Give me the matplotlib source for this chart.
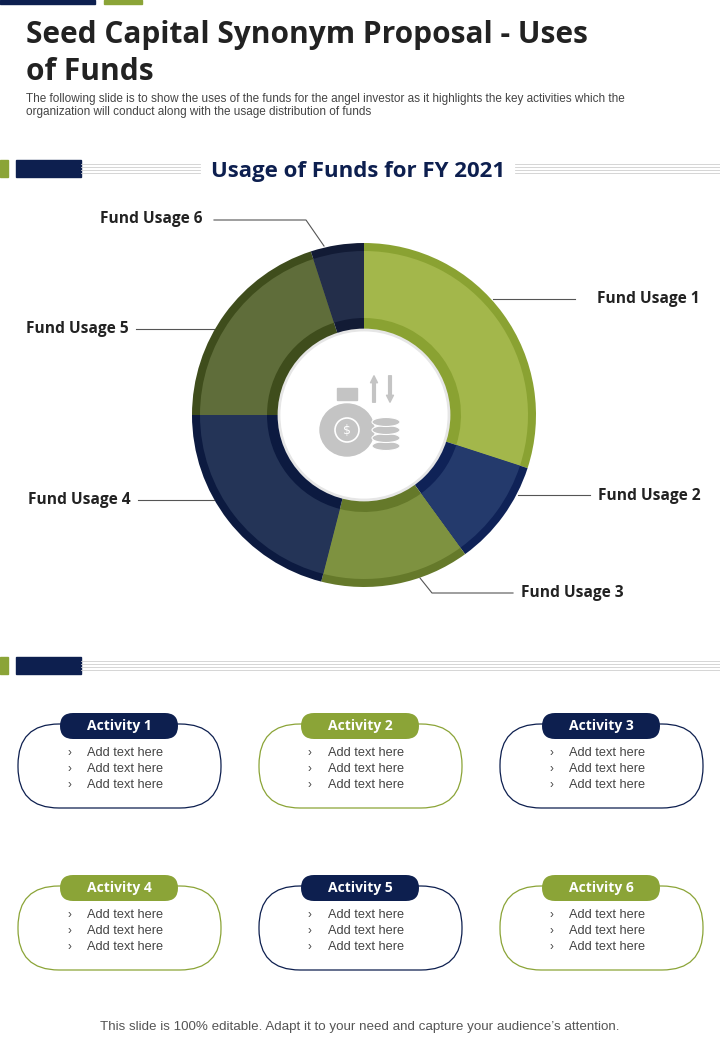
import matplotlib.pyplot as plt
from matplotlib.patches import Rectangle, FancyBboxPatch, Circle, Ellipse

# chart data
usage_labels = ["Fund Usage 1", "Fund Usage 2", "Fund Usage 3",
                "Fund Usage 4", "Fund Usage 5", "Fund Usage 6"]
usage_share = [30, 10, 14, 21, 20, 5]
main_colors = ["#a3b74b", "#243a6c", "#7e9240", "#243457", "#5f6d3a", "#232e4a"]
rim_colors = ["#8aa232", "#0f2257", "#65792a", "#0c1a40", "#3f4d1c", "#121b35"]

activities = ["Activity 1", "Activity 2", "Activity 3",
              "Activity 4", "Activity 5", "Activity 6"]
act_colors = ["#0d1f4f", "#8ba437", "#0d1f4f", "#8ba437", "#0d1f4f", "#8ba437"]
bullets = ["Add text here", "Add text here", "Add text here"]

NAVY = "#0d1f4f"
GREEN = "#8ba437"
H = 1040
HEAD = "Open Sans"
BODY = "Liberation Sans"

fig = plt.figure(figsize=(7.2, 10.4), dpi=100)
ax = fig.add_axes([0, 0, 1, 1])


def Y(y):
    return H - y


# top bars
ax.add_patch(Rectangle((0, Y(4)), 95, 4, color=NAVY))
ax.add_patch(Rectangle((104, Y(4)), 38, 4, color=GREEN))

ax.text(26, Y(35), "Seed Capital Synonym Proposal - Uses", fontsize=21.5,
        fontweight="bold", family=HEAD, color="#222222", va="center")
ax.text(26, Y(72), "of Funds", fontsize=21.5, fontweight="bold", family=HEAD,
        color="#222222", va="center")
ax.text(26, Y(99), "The following slide is to show the uses of the funds for the angel investor as it highlights the key activities which the",
        fontsize=8.5, family=BODY, color="#444444", va="center")
ax.text(26, Y(112), "organization will conduct along with the usage distribution of funds",
        fontsize=8.5, family=BODY, color="#444444", va="center")


def divider(y, x_gap=None):
    ax.add_patch(Rectangle((0, Y(y + 17)), 8, 17, color=GREEN))
    ax.add_patch(Rectangle((16, Y(y + 17)), 65, 17, color=NAVY))
    for k in range(4):
        yy = Y(y + 4 + k * 3)
        if x_gap:
            ax.plot([81, x_gap[0]], [yy, yy], color="#cfcfcf", lw=0.6)
            ax.plot([x_gap[1], 720], [yy, yy], color="#cfcfcf", lw=0.6)
        else:
            ax.plot([81, 720], [yy, yy], color="#cfcfcf", lw=0.6)


divider(160, (200, 515))
ax.text(358, Y(171), "Usage of Funds for FY 2021", fontsize=16,
        fontweight="bold", family=HEAD, color=NAVY, ha="center", va="center")

# donut
cx, cy = 364, Y(415)
ax.pie(usage_share, colors=rim_colors, radius=172, center=(cx, cy),
       startangle=90, counterclock=False,
       wedgeprops=dict(width=88, edgecolor="none"))
ax.pie(usage_share, colors=main_colors, radius=164, center=(cx, cy),
       startangle=90, counterclock=False,
       wedgeprops=dict(width=67, edgecolor="none"))
ax.add_patch(Circle((cx, cy), 85, color="white", ec="#e6e6e6", lw=2))

# icon
ax.add_patch(Ellipse((347, Y(430)), 54, 52, color="#c4c4c4"))
ax.add_patch(Rectangle((337, Y(400)), 20, 12, color="#c4c4c4"))
ax.add_patch(Circle((347, Y(430)), 12, fill=False, ec="white", lw=1.2))
ax.text(347, Y(430), "$", fontsize=9, color="white", ha="center", va="center")
for k in range(4):
    ax.add_patch(Ellipse((386, Y(446 - k * 8)), 28, 9, color="#c4c4c4",
                         ec="white", lw=0.8))
ax.annotate("", xy=(374, Y(373)), xytext=(374, Y(405)),
            arrowprops=dict(arrowstyle="simple", color="#c4c4c4"))
ax.annotate("", xy=(390, Y(405)), xytext=(390, Y(373)),
            arrowprops=dict(arrowstyle="simple", color="#c4c4c4"))

# leader lines and labels
leaders = [
    ([493, 575], [299, 299], (597, 299), "left"),
    ([518, 590], [495, 495], (598, 496), "left"),
    ([420, 432, 513], [578, 593, 593], (521, 593), "left"),
    ([214, 138], [500, 500], (131, 500), "right"),
    ([214, 136], [329, 329], (129, 329), "right"),
    ([324, 306, 214], [246, 220, 220], (203, 219), "right"),
]
for (xs, ys, (tx, ty), ha), lab in zip(leaders, usage_labels):
    ax.plot(xs, [Y(v) for v in ys], color="#555555", lw=0.8)
    ax.text(tx, Y(ty), lab, fontsize=11.2, fontweight="bold", family=HEAD,
            color="#222222", ha=ha, va="center")

divider(657)

# activity boxes
for i, name in enumerate(activities):
    col, row = i % 3, i // 3
    x0 = 18 + col * 241
    top = 724 + row * 162
    c = act_colors[i]
    ax.add_patch(FancyBboxPatch((x0, Y(top + 84)), 203, 84,
                                boxstyle="round,pad=0,rounding_size=41",
                                fc="white", ec=c, lw=0.9))
    ax.add_patch(FancyBboxPatch((x0 + 42, Y(top + 15)), 118, 26,
                                boxstyle="round,pad=0,rounding_size=13",
                                fc=c, ec="none"))
    ax.text(x0 + 101, Y(top + 2), name, fontsize=10, fontweight="bold",
            family=HEAD, color="white", ha="center", va="center")
    for j, b in enumerate(bullets):
        yy = Y(top + 29 + j * 16)
        ax.text(x0 + 49, yy, "›", fontsize=8.5, family=BODY, color="#444444", va="center")
        ax.text(x0 + 69, yy, b, fontsize=9.2, family=BODY, color="#444444", va="center")

ax.text(360, Y(1027), "This slide is 100% editable. Adapt it to your need and capture your audience\u2019s attention.",
        fontsize=9.6, family=BODY, color="#555555", ha="center", va="center")

ax.set_xlim(0, 720)
ax.set_ylim(0, H)
ax.set_aspect("equal")
ax.axis("off")

fig.savefig("out.png", dpi=100, facecolor="white")
